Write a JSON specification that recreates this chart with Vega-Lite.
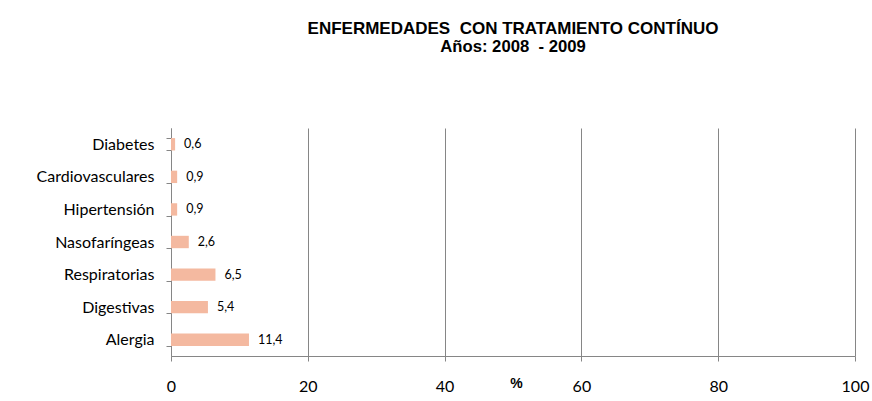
{
  "$schema": "https://vega.github.io/schema/vega-lite/v6.json",
  "autosize": {"type": "none"},
  "padding": {"left": 171, "top": 128, "right": 17, "bottom": 45},
  "width": 684,
  "height": 228,
  "background": "white",
  "config": {
    "locale": {"number": {"decimal": ",", "thousands": ".", "grouping": [3], "currency": ["", " €"]}},
    "view": {"stroke": null},
    "font": "Lato"
  },
  "title": {
    "text": "ENFERMEDADES\u00a0 CON TRATAMIENTO CONTÍNUO",
    "subtitle": "Años: 2008\u00a0 - 2009",
    "font": "Liberation Sans",
    "fontSize": 17,
    "fontWeight": "bold",
    "color": "black",
    "subtitleFont": "Liberation Sans",
    "subtitleFontSize": 16.7,
    "subtitleFontWeight": "bold",
    "subtitleColor": "black",
    "subtitlePadding": 1,
    "anchor": "middle",
    "offset": 63
  },
  "data": {
    "values": [
      {"enfermedad": "Diabetes", "pct": 0.6},
      {"enfermedad": "Cardiovasculares", "pct": 0.9},
      {"enfermedad": "Hipertensión", "pct": 0.9},
      {"enfermedad": "Nasofaríngeas", "pct": 2.6},
      {"enfermedad": "Respiratorias", "pct": 6.5},
      {"enfermedad": "Digestivas", "pct": 5.4},
      {"enfermedad": "Alergia", "pct": 11.4}
    ]
  },
  "encoding": {
    "y": {
      "field": "enfermedad",
      "type": "nominal",
      "sort": null,
      "scale": {"paddingInner": 0.62, "paddingOuter": 0.31},
      "axis": {
        "title": null,
        "tickBand": "extent",
        "tickSize": 5,
        "tickColor": "#868686",
        "domainColor": "#868686",
        "labelPadding": 12,
        "labelFont": "Lato",
        "labelFontSize": 16,
        "labelColor": "black",
        "grid": false
      }
    },
    "x": {
      "field": "pct",
      "type": "quantitative",
      "scale": {"domain": [0, 100], "nice": false},
      "axis": {
        "values": [0, 20, 40, 60, 80, 100],
        "title": "%",
        "titleFont": "Liberation Sans",
        "titleFontSize": 14,
        "titleFontWeight": "bold",
        "titleColor": "black",
        "titleX": 345,
        "titleY": 27,
        "titleBaseline": "middle",
        "grid": true,
        "gridColor": "#868686",
        "gridOpacity": 1,
        "tickSize": 5,
        "tickColor": "#868686",
        "domainColor": "#868686",
        "labelPadding": 17,
        "labelFlush": false,
        "labelBound": false,
        "labelOverlap": false,
        "labelFont": "Lato",
        "labelFontSize": 16,
        "labelColor": "black"
      }
    }
  },
  "layer": [
    {"mark": {"type": "bar", "color": "#F4B9A0"}},
    {
      "mark": {"type": "text", "align": "left", "dx": 9, "fontSize": 12.5, "font": "Lato", "color": "black"},
      "encoding": {"text": {"field": "pct", "type": "quantitative", "format": ".1f"}}
    }
  ]
}
